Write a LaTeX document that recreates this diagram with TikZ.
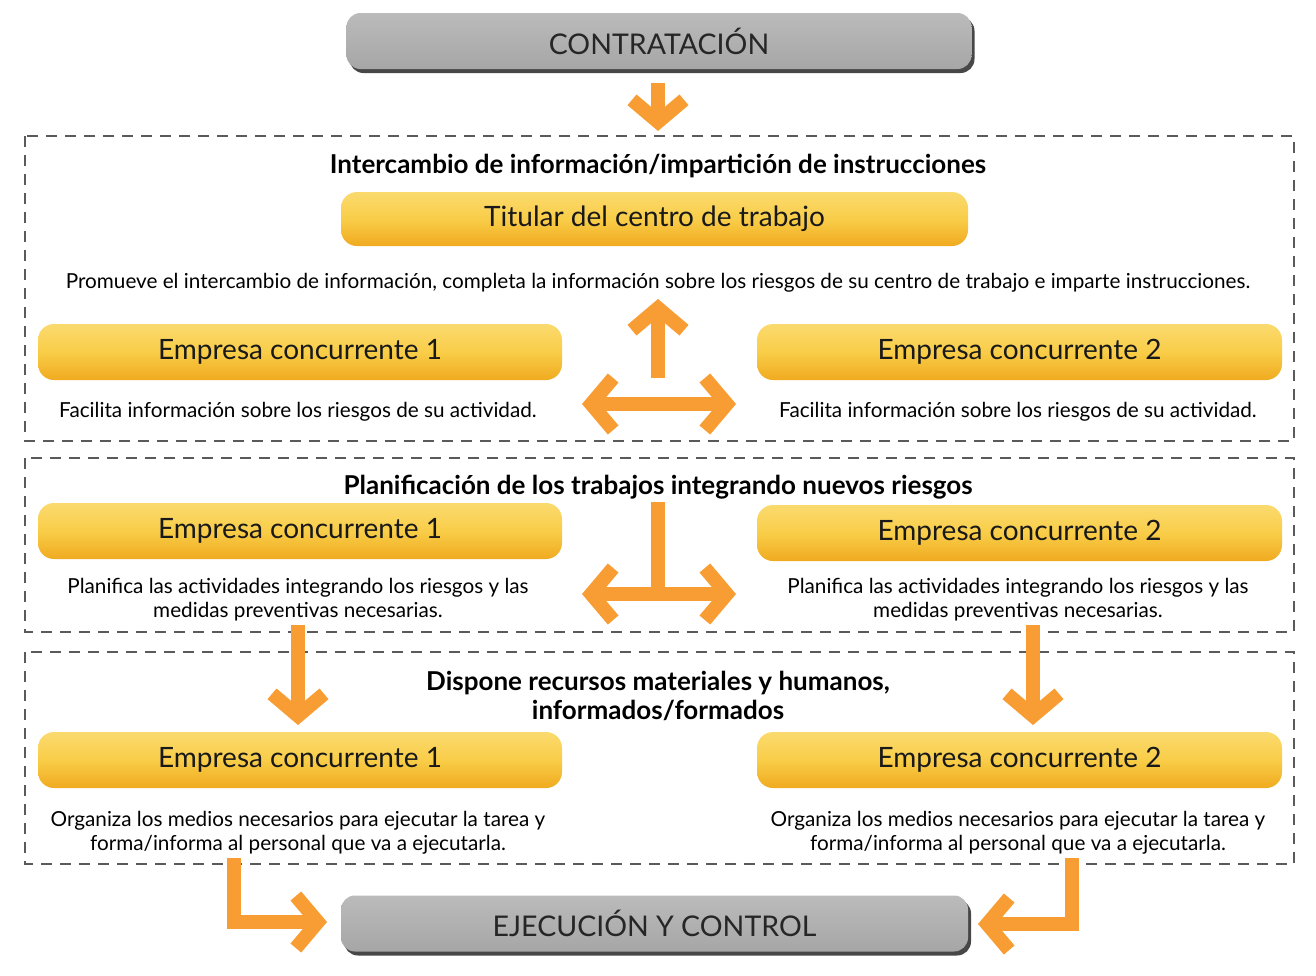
\documentclass[tikz,border=0pt]{standalone}
\usepackage{fontspec}
\setmainfont{Lato}
\usetikzlibrary{arrows.meta,shadows,calc}
\definecolor{orng}{HTML}{F89D33}
\definecolor{dashg}{HTML}{5A5A5A}
\definecolor{ylwT}{HTML}{FADA6E}
\definecolor{ylwM}{HTML}{F9CD48}
\definecolor{ylwB}{HTML}{F0AA20}
\definecolor{grT}{HTML}{BBBBBB}
\definecolor{grB}{HTML}{A6A6A6}
\begin{document}
\begin{tikzpicture}[x=1pt,y=-1pt,
  graybox/.style={rounded corners=14pt, minimum width=625pt, minimum height=56pt,
    top color=grT, bottom color=grB,
    drop shadow={shadow xshift=3pt, shadow yshift=-4pt, fill=black!80, opacity=0.9},
    font=\fontsize{28.5}{30}\selectfont, text=black!85},
  ylwbox/.style={rounded corners=16pt, minimum width=524pt, minimum height=56pt,
    top color=ylwT, bottom color=ylwB, middle color=ylwM,
    font=\fontsize{28}{30}\selectfont, text=black!90},
  txt/.style={font=\fontsize{20.7}{24}\selectfont, align=center, text=black, yshift=-2pt},
  head/.style={font=\bfseries\fontsize{26}{29}\selectfont, align=center, text=black, yshift=-2pt},
  section/.style={draw=dashg, line width=2.5pt, dash pattern=on 11pt off 8pt},
  shaft/.style={draw=orng, line width=14pt, line join=miter},
  bigarrow/.style={shaft, -{Straight Barb[length=22pt, width=52pt]}},
  dblarrow/.style={shaft, {Straight Barb[length=22pt, width=52pt]}-{Straight Barb[length=22pt, width=52pt]}}
]
\useasboundingbox (0,0) rectangle (1316,975);

% sections
\draw[section] (25,136) rectangle (1294,441);
\draw[section] (25,458) rectangle (1294,632);
\draw[section] (25,652) rectangle (1294,864);

% top and bottom
\node[graybox] (contr) at (659,41) {CONTRATACIÓN};
\node[graybox, minimum width=627pt] (ejec) at (654.5,923.5) {EJECUCIÓN Y CONTROL};

% section 1
\node[head] (h1) at (658,164) {Intercambio de información/impartición de instrucciones};
\node[ylwbox, minimum width=627pt, minimum height=54pt] (tit) at (654.5,219) {Titular del centro de trabajo};
\node[txt] (t1) at (658,281) {Promueve el intercambio de información, completa la información sobre los riesgos de su centro de trabajo e imparte instrucciones.};
\node[ylwbox] (e11) at (300,352) {Empresa concurrente 1};
\node[ylwbox, minimum width=525pt] (e12) at (1019.5,352) {Empresa concurrente 2};
\node[txt] (f11) at (298,410) {Facilita información sobre los riesgos de su actividad.};
\node[txt] (f12) at (1018,410) {Facilita información sobre los riesgos de su actividad.};

% section 2
\node[head] (h2) at (658,485) {Planificación de los trabajos integrando nuevos riesgos};
\node[ylwbox] (e21) at (300,531) {Empresa concurrente 1};
\node[ylwbox, minimum width=525pt] (e22) at (1019.5,533) {Empresa concurrente 2};
\node[txt] (p21) at (298,598) {Planifica las actividades integrando los riesgos y las\\medidas preventivas necesarias.};
\node[txt] (p22) at (1018,598) {Planifica las actividades integrando los riesgos y las\\medidas preventivas necesarias.};

% section 3
\node[head] (h3) at (658,694) {Dispone recursos materiales y humanos,\\informados/formados};
\node[ylwbox] (e31) at (300,760) {Empresa concurrente 1};
\node[ylwbox, minimum width=525pt] (e32) at (1019.5,760) {Empresa concurrente 2};
\node[txt] (o31) at (298,831) {Organiza los medios necesarios para ejecutar la tarea y\\forma/informa al personal que va a ejecutarla.};
\node[txt] (o32) at (1018,831) {Organiza los medios necesarios para ejecutar la tarea y\\forma/informa al personal que va a ejecutarla.};

% arrow coordinates
\coordinate (a0s) at (658,83);  \coordinate (a0e) at (658,131);
\coordinate (up1s) at (658,378); \coordinate (up1e) at (658,299);
\coordinate (h1l) at (582,404); \coordinate (h1r) at (736,404);
\coordinate (v2s) at (658,502); \coordinate (v2e) at (658,594);
\coordinate (h2l) at (582,594); \coordinate (h2r) at (736,594);
\coordinate (dls) at (298,625); \coordinate (dle) at (298,725);
\coordinate (drs) at (1033,625); \coordinate (dre) at (1033,725);
\coordinate (bls) at (234,858); \coordinate (ble) at (327,922);
\coordinate (brs) at (1072,858); \coordinate (bre) at (978,924);

% arrows
\draw[bigarrow] (a0s) -- (a0e);
\draw[bigarrow] (up1s) -- (up1e);
\draw[dblarrow] (h1l) -- (h1r);
\draw[shaft] (v2s) -- (v2e);
\draw[dblarrow] (h2l) -- (h2r);
\draw[bigarrow] (dls) -- (dle);
\draw[bigarrow] (drs) -- (dre);
\draw[bigarrow] (bls) |- (ble);
\draw[bigarrow] (brs) |- (bre);
\end{tikzpicture}
\end{document}
